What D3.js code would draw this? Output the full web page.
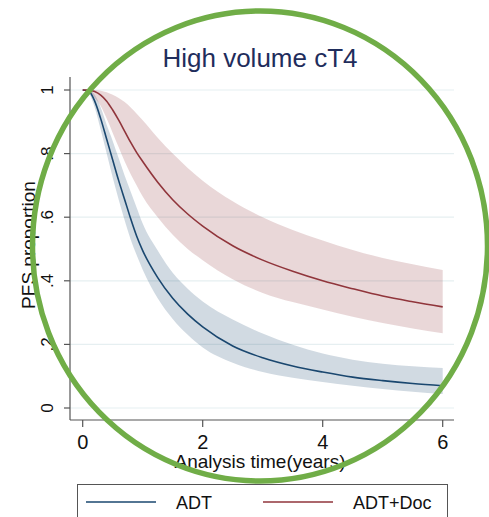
<!DOCTYPE html>
<html>
<head>
<meta charset="utf-8">
<script src="https://cdn.jsdelivr.net/npm/d3@7"></script>
<style>
    body { margin: 0; background: #fff; }
    text { font-family: "Liberation Sans", Arial, sans-serif; }
</style>
</head>
<body>
<script>

// analysis time (years)
var times = [0, 0.1, 0.2, 0.3, 0.4, 0.5, 0.6, 0.7, 0.8, 0.9, 1.0, 1.25, 1.5, 1.75, 2, 2.5, 3, 3.5, 4, 4.5, 5, 5.5, 6];

// ADT: survival estimate and confidence band
var adt = [1, 0.997, 0.965, 0.91, 0.845, 0.78, 0.715, 0.655, 0.595, 0.54, 0.495, 0.41, 0.345, 0.295, 0.255, 0.195, 0.158, 0.132, 0.113, 0.097, 0.086, 0.077, 0.070];
var adtLower = [1, 0.99, 0.945, 0.875, 0.80, 0.725, 0.655, 0.59, 0.53, 0.48, 0.435, 0.345, 0.28, 0.23, 0.19, 0.142, 0.113, 0.095, 0.082, 0.07, 0.06, 0.051, 0.044];
var adtUpper = [1, 1, 0.985, 0.945, 0.89, 0.84, 0.785, 0.73, 0.68, 0.63, 0.58, 0.495, 0.425, 0.375, 0.335, 0.278, 0.234, 0.199, 0.171, 0.152, 0.139, 0.131, 0.126];

// ADT+Doc: survival estimate and confidence band
var adtDoc = [1, 1, 0.995, 0.984, 0.965, 0.937, 0.905, 0.87, 0.835, 0.803, 0.775, 0.71, 0.655, 0.61, 0.572, 0.51, 0.465, 0.43, 0.40, 0.375, 0.352, 0.334, 0.318];
var adtDocLower = [1, 0.995, 0.975, 0.95, 0.91, 0.865, 0.82, 0.775, 0.735, 0.7, 0.665, 0.6, 0.545, 0.5, 0.465, 0.405, 0.362, 0.333, 0.31, 0.287, 0.267, 0.25, 0.235];
var adtDocUpper = [1, 1, 1, 0.998, 0.993, 0.985, 0.975, 0.962, 0.945, 0.925, 0.905, 0.85, 0.8, 0.755, 0.715, 0.65, 0.6, 0.56, 0.527, 0.497, 0.472, 0.452, 0.434];

// ticks and labels
var xTicks = [0, 2, 4, 6];
var yTicks = [0, 0.2, 0.4, 0.6, 0.8, 1];
var yTickLabels = ["0", ".2", ".4", ".6", ".8", "1"];
var seriesNames = ["ADT", "ADT+Doc"];

var w = 489;
var h = 517;

var svg = d3.select("body")
    .append("svg")
    .attr("width", w)
    .attr("height", h);

// plot region (note: "top" is taken by window.top, so prefixed names)
var plotLeft = 70, plotRight = 454, plotTop = 77, plotBottom = 420;

var x = d3.scaleLinear().domain([0, 6]).range([82.7, 442.7]);
var y = d3.scaleLinear().domain([0, 1]).range([408, 90]);

// gridlines
svg.selectAll(".grid")
    .data(yTicks)
    .enter()
    .append("line")
    .attr("x1", plotLeft)
    .attr("x2", plotRight)
    .attr("y1", function(d) { return y(d); })
    .attr("y2", function(d) { return y(d); })
    .attr("stroke", "#e6eff1")
    .attr("stroke-width", 1.2);

// build rows for bands/lines
function rows(mid, lo, hi) {
    return times.map(function(t, i) {
        return {t: t, v: mid[i], lo: lo[i], hi: hi[i]};
    });
}

var series = [
    {name: seriesNames[0], color: "#1a476f", data: rows(adt, adtLower, adtUpper)},
    {name: seriesNames[1], color: "#90353b", data: rows(adtDoc, adtDocLower, adtDocUpper)}
];

var area = d3.area()
    .x(function(d) { return x(d.t); })
    .y0(function(d) { return y(d.lo); })
    .y1(function(d) { return y(d.hi); })
    .curve(d3.curveMonotoneX);

var line = d3.line()
    .x(function(d) { return x(d.t); })
    .y(function(d) { return y(d.v); })
    .curve(d3.curveMonotoneX);

// confidence bands
svg.selectAll(".band")
    .data(series)
    .enter()
    .append("path")
    .attr("d", function(d) { return area(d.data); })
    .attr("fill", function(d) { return d.color; })
    .attr("fill-opacity", 0.2);

// estimates
svg.selectAll(".curve")
    .data(series)
    .enter()
    .append("path")
    .attr("d", function(d) { return line(d.data); })
    .attr("fill", "none")
    .attr("stroke", function(d) { return d.color; })
    .attr("stroke-width", 1.6);

// axis lines
svg.append("line")
    .attr("x1", plotLeft).attr("x2", plotLeft)
    .attr("y1", plotTop).attr("y2", plotBottom)
    .attr("stroke", "#555").attr("stroke-width", 1.2);
svg.append("line")
    .attr("x1", plotLeft).attr("x2", plotRight)
    .attr("y1", plotBottom).attr("y2", plotBottom)
    .attr("stroke", "#555").attr("stroke-width", 1.2);

// y ticks + labels (vertical, Stata style)
svg.selectAll(".ytick")
    .data(yTicks)
    .enter()
    .append("line")
    .attr("x1", plotLeft - 6).attr("x2", plotLeft)
    .attr("y1", function(d) { return y(d); })
    .attr("y2", function(d) { return y(d); })
    .attr("stroke", "#555").attr("stroke-width", 1.2);

svg.selectAll(".ylabel")
    .data(yTicks)
    .enter()
    .append("text")
    .attr("transform", function(d) { return "translate(53," + y(d) + ") rotate(-90)"; })
    .attr("text-anchor", "middle")
    .attr("font-size", 17)
    .attr("fill", "#111")
    .text(function(d, i) { return yTickLabels[i]; });

// x ticks + labels
svg.selectAll(".xtick")
    .data(xTicks)
    .enter()
    .append("line")
    .attr("x1", function(d) { return x(d); })
    .attr("x2", function(d) { return x(d); })
    .attr("y1", plotBottom).attr("y2", plotBottom + 7)
    .attr("stroke", "#555").attr("stroke-width", 1.2);

svg.selectAll(".xlabel")
    .data(xTicks)
    .enter()
    .append("text")
    .attr("x", function(d) { return x(d); })
    .attr("y", 449)
    .attr("text-anchor", "middle")
    .attr("font-size", 20)
    .attr("fill", "#111")
    .text(function(d) { return d; });

// axis titles
svg.append("text")
    .attr("x", 260).attr("y", 468)
    .attr("text-anchor", "middle")
    .attr("font-size", 19)
    .attr("fill", "#111")
    .text("Analysis time(years)");

svg.append("text")
    .attr("transform", "translate(35,245) rotate(-90)")
    .attr("text-anchor", "middle")
    .attr("font-size", 19)
    .attr("fill", "#111")
    .text("PFS proportion");

// title
svg.append("text")
    .attr("x", 260).attr("y", 67)
    .attr("text-anchor", "middle")
    .attr("font-size", 26)
    .attr("fill", "#1f2d5c")
    .text("High volume cT4");

// legend
var legend = svg.append("g");
legend.append("rect")
    .attr("x", 77.5).attr("y", 484.5)
    .attr("width", 370).attr("height", 50)
    .attr("fill", "#fff")
    .attr("stroke", "#555");

var legendX = [86, 263];
var legendTextX = [176, 353];

legend.selectAll(".key")
    .data(series)
    .enter()
    .append("line")
    .attr("x1", function(d, i) { return legendX[i]; })
    .attr("x2", function(d, i) { return legendX[i] + 70; })
    .attr("y1", 502).attr("y2", 502)
    .attr("stroke", function(d) { return d.color; })
    .attr("stroke-width", 1.6);

legend.selectAll(".keytext")
    .data(series)
    .enter()
    .append("text")
    .attr("x", function(d, i) { return legendTextX[i]; })
    .attr("y", 508.5)
    .attr("font-size", 18)
    .attr("fill", "#111")
    .text(function(d) { return d.name; });

// green highlight ring on top
svg.append("ellipse")
    .attr("cx", 260).attr("cy", 246)
    .attr("rx", 227.5).attr("ry", 235)
    .attr("fill", "none")
    .attr("stroke", "#70ad47")
    .attr("stroke-width", 5.5);

</script>
</body>
</html>
